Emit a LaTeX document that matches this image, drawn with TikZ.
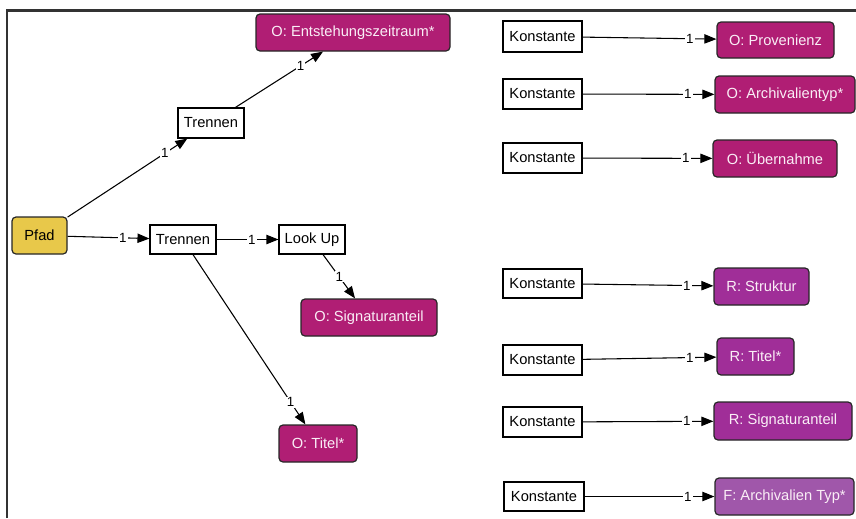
\documentclass[tikz,border=0pt]{standalone}
\usepackage{fontspec}
\setmainfont{Liberation Sans}
\usetikzlibrary{arrows.meta,decorations.markings}
\definecolor{objmag}{HTML}{B01E74}
\definecolor{relpur}{HTML}{A02E98}
\definecolor{fldpur}{HTML}{A057AA}
\definecolor{pathyel}{HTML}{E8C84A}
\definecolor{framegray}{HTML}{333333}
\definecolor{boxtext}{HTML}{FAEEF6}
\tikzset{
  size/.style 2 args={minimum width=#1*0.75pt, minimum height=#2*0.75pt},
  plain/.style={draw=black, line width=0.8pt, fill=white, inner sep=0pt,
    font=\fontsize{11}{13}\selectfont},
  target/.style={draw=black!85, line width=0.9pt, rounded corners=3pt, inner sep=0pt,
    text=boxtext, font=\fontsize{11}{13}\selectfont},
  objbox/.style={target, fill=objmag},
  relbox/.style={target, fill=relpur},
  fldbox/.style={target, fill=fldpur},
  srcbox/.style={draw=black!85, line width=0.9pt, rounded corners=3pt, inner sep=0pt,
    fill=pathyel, font=\fontsize{11}{13}\selectfont},
  lbl/.style={fill=white, inner sep=0.8pt, font=\fontsize{10}{11}\selectfont},
  edge/.style={draw=black, line width=0.8pt, -{Triangle[length=9pt,width=7pt]},
    postaction={decorate},
    decoration={markings, mark=at position -20pt with {\node[lbl]{1};}}}
}
\begin{document}
\begin{tikzpicture}[x=0.75pt, y=-0.75pt]
  \useasboundingbox (0,0) rectangle (856,518);
  % outer frame
  \draw[framegray, line width=1.6pt, line join=miter] (7,518) -- (7,10.5) -- (856,10.5);

  % left tree
  \node[srcbox, size={55}{37}] (pfad) at (39.5,235.5) {Pfad};
  \node[plain, size={66}{30}] (tA) at (211,123) {Trennen};
  \node[objbox, size={194}{37}] (ez) at (353,32.5) {O: Entstehungszeitraum*};
  \node[plain, size={66}{29}] (tB) at (183,239.5) {Trennen};
  \node[plain, size={66}{29}] (lu) at (312,239.5) {Look Up};
  \node[objbox, size={136}{37}] (osig) at (369,317.5) {O: Signaturanteil};
  \node[objbox, size={78}{37}] (otit) at (318,443.5) {O: Titel*};

  \draw[edge] (pfad) -- (tA);
  \draw[edge] (tA) -- (ez);
  \draw[edge] (pfad) -- (tB);
  \draw[edge] (tB) -- (lu);
  \draw[edge] (lu) -- (osig);
  \draw[edge] (tB) -- (otit);

  % constants on the right
  \node[plain, size={79}{31}] (k1) at (542.5,36.5) {Konstante};
  \node[plain, size={79}{30}] (k2) at (542.5,94) {Konstante};
  \node[plain, size={79}{30}] (k3) at (542.5,158) {Konstante};
  \node[plain, size={79}{29}] (k4) at (542.5,283.5) {Konstante};
  \node[plain, size={79}{30}] (k5) at (542.5,360) {Konstante};
  \node[plain, size={79}{30}] (k6) at (542.5,422) {Konstante};
  \node[plain, size={80}{29}] (k7) at (544,496.5) {Konstante};

  \node[objbox, size={117}{36}] (prov) at (775.5,40) {O: Provenienz};
  \node[objbox, size={140}{37}] (arch) at (785,94.5) {O: Archivalientyp*};
  \node[objbox, size={124}{37}] (ueb) at (775,158.5) {O: Übernahme};
  \node[relbox, size={95}{37}] (rstr) at (761.5,286.5) {R: Struktur};
  \node[relbox, size={77}{37}] (rtit) at (755.5,356.5) {R: Titel*};
  \node[relbox, size={138}{38}] (rsig) at (783,421) {R: Signaturanteil};
  \node[fldbox, size={139}{37}] (farch) at (784.5,496.5) {F: Archivalien Typ*};

  \draw[edge] (k1) -- (prov);
  \draw[edge] (k2) -- (arch);
  \draw[edge] (k3) -- (ueb);
  \draw[edge] (k4) -- (rstr);
  \draw[edge] (k5) -- (rtit);
  \draw[edge] (k6) -- (rsig);
  \draw[edge] (k7) -- (farch);
\end{tikzpicture}
\end{document}
